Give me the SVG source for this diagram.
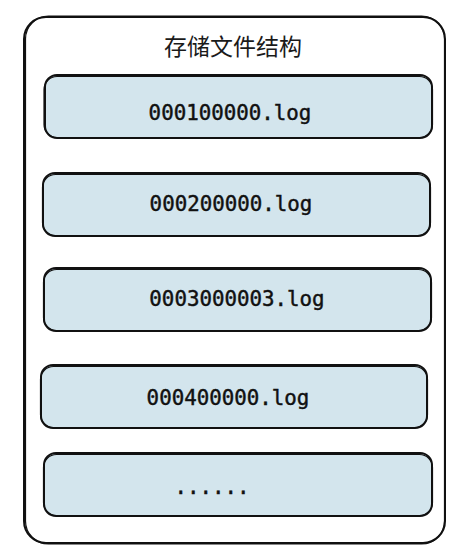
<svg xmlns="http://www.w3.org/2000/svg" width="458" height="552" viewBox="0 0 458 552">
<style>
.outer{fill:#ffffff;stroke:#111111;stroke-width:2}
.box{fill:#d3e5ed;stroke:#111111;stroke-width:2}
.sk{fill:none;stroke:#111111;stroke-width:1.2}
.title{font-family:"Noto Sans CJK SC","Noto Sans",sans-serif;font-size:23px;fill:#1a1a1a;text-anchor:middle}
.lbl{font-family:"DejaVu Sans Mono","Liberation Mono",monospace;font-size:20.8px;fill:#111111;stroke:#111111;stroke-width:0.45;text-anchor:middle}
</style>
<g id="container">
<rect class="outer" x="24" y="17" width="421" height="526" rx="22"/>
<rect class="sk" x="25.5" y="16" width="419" height="528" rx="23"/>
<text class="title" x="233" y="55">存储文件结构</text>
</g>
<g id="file1">
<rect class="box" x="45" y="75" width="387" height="63" rx="12"/>
<rect class="sk" x="44" y="76.5" width="388.5" height="61" rx="13"/>
<text class="lbl" x="230" y="120">000100000.log</text>
</g>
<g id="file2">
<rect class="box" x="43" y="173" width="387" height="63" rx="12"/>
<rect class="sk" x="42.5" y="174.5" width="388" height="61" rx="13"/>
<text class="lbl" x="231" y="211">000200000.log</text>
</g>
<g id="file3">
<rect class="box" x="44" y="268" width="387" height="63" rx="12"/>
<rect class="sk" x="43.5" y="269.5" width="388" height="61" rx="13"/>
<text class="lbl" x="237" y="306">0003000003.log</text>
</g>
<g id="file4">
<rect class="box" x="41" y="365" width="386" height="63" rx="12"/>
<rect class="sk" x="40.5" y="366.5" width="387" height="61" rx="13"/>
<text class="lbl" x="228" y="405">000400000.log</text>
</g>
<g id="file5">
<rect class="box" x="44" y="453" width="388" height="63" rx="12"/>
<rect class="sk" x="43.5" y="454.5" width="389" height="61" rx="13"/>
<text class="lbl" x="212" y="494">......</text>
</g>
<g id="connectors"/>
</svg>
